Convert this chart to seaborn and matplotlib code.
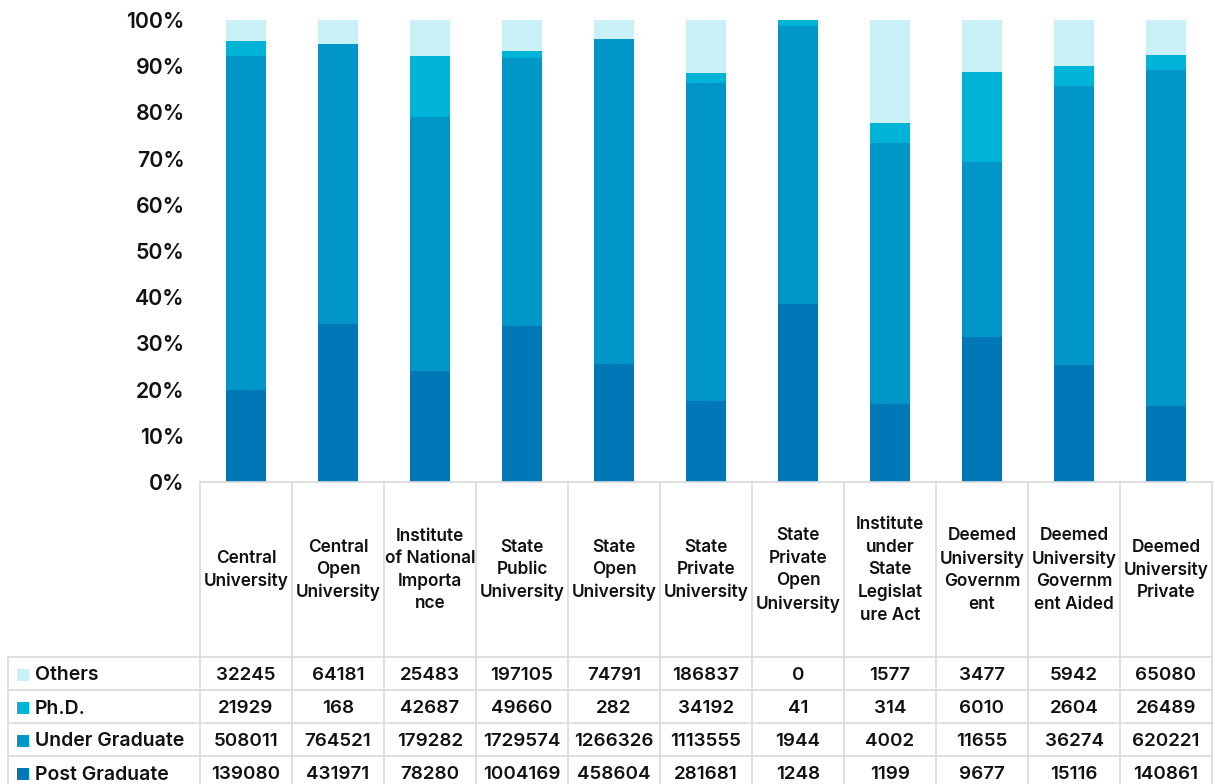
import numpy as np
import pandas as pd
import matplotlib
matplotlib.use("Agg")
import matplotlib.pyplot as plt
import seaborn as sns

categories = [
    "Central University", "Central Open University", "Institute of National Importance",
    "State Public University", "State Open University", "State Private University",
    "State Private Open University", "Institute under State Legislature Act",
    "Deemed University Government", "Deemed University Government Aided",
    "Deemed University Private",
]
header_labels = [
    "Central\nUniversity", "Central\nOpen\nUniversity", "Institute\nof National\nImporta\nnce",
    "State\nPublic\nUniversity", "State\nOpen\nUniversity", "State\nPrivate\nUniversity",
    "State\nPrivate\nOpen\nUniversity", "Institute\nunder\nState\nLegislat\nure Act",
    "Deemed\nUniversity\nGovernm\nent", "Deemed\nUniversity\nGovernm\nent Aided",
    "Deemed\nUniversity\nPrivate",
]
others = [32245, 64181, 25483, 197105, 74791, 186837, 0, 1577, 3477, 5942, 65080]
phd = [21929, 168, 42687, 49660, 282, 34192, 41, 314, 6010, 2604, 26489]
under_graduate = [508011, 764521, 179282, 1729574, 1266326, 1113555, 1944, 4002, 11655, 36274, 620221]
post_graduate = [139080, 431971, 78280, 1004169, 458604, 281681, 1248, 1199, 9677, 15116, 140861]
series_names = ["Post Graduate", "Under Graduate", "Ph.D.", "Others"]
colors = {"Post Graduate": "#0077B6", "Under Graduate": "#0096C7",
          "Ph.D.": "#00B4D8", "Others": "#CAF0F8"}
yticks = [0, 10, 20, 30, 40, 50, 60, 70, 80, 90, 100]

sns.set_theme(style="white")
plt.rcParams["font.family"] = ["Inter", "DejaVu Sans"]

df = pd.DataFrame({"category": categories, "Post Graduate": post_graduate,
                   "Under Graduate": under_graduate, "Ph.D.": phd, "Others": others})
totals = df[series_names].sum(axis=1)
cum = df[series_names].cumsum(axis=1).div(totals, axis=0) * 100

W, H = 1215, 784
fig = plt.figure(figsize=(W / 100, H / 100), dpi=100)
ax = fig.add_axes([200 / W, 1 - 482 / H, 1012 / W, 462 / H])

# stacked 100% bars: draw cumulative tops from the outermost layer inward
for name in reversed(series_names):
    sns.barplot(x=df["category"], y=cum[name], color=colors[name], width=40 / 92,
                saturation=1, ax=ax, order=categories, linewidth=0, edgecolor="none")

ax.set_xlim(-0.5, len(categories) - 0.5)
ax.set_ylim(0, 100)
ax.set_yticks(yticks)
ax.set_yticklabels([f"{v}%" for v in yticks], fontsize=15.3, fontweight="semibold", color="#111111")
ax.tick_params(axis="y", length=0, pad=11)
ax.set_xticks([])
ax.set_xlabel("")
ax.set_ylabel("")
for s in ax.spines.values():
    s.set_visible(False)

# data table below the plot, drawn in pixel coordinates
tab = fig.add_axes([0, 0, 1, 1])
tab.set_xlim(0, W)
tab.set_ylim(H, 0)
tab.axis("off")
tab.patch.set_alpha(0)
grid_c = "#d9d9d9"
col_w = 92
x0 = 200
xs = [x0 + i * col_w for i in range(len(categories) + 1)]
row_edges = [657, 690, 723, 756]
# header block
tab.plot([x0, xs[-1]], [482, 482], color=grid_c, lw=1.2)
for x in xs:
    tab.plot([x, x], [482, H], color=grid_c, lw=1.2)
for y in row_edges:
    tab.plot([8, xs[-1]], [y, y], color=grid_c, lw=1.2)
tab.plot([8, 8], [657, H], color=grid_c, lw=1.2)

for i, lab in enumerate(header_labels):
    tab.text(xs[i] + col_w / 2, 570, lab, ha="center", va="center", fontsize=12.4,
             fontweight="semibold", linespacing=1.42, color="#111111")

row_series = ["Others", "Ph.D.", "Under Graduate", "Post Graduate"]
row_values = {"Others": others, "Ph.D.": phd, "Under Graduate": under_graduate,
              "Post Graduate": post_graduate}
for r, name in enumerate(row_series):
    yc = row_edges[r] + 18.5
    tab.add_patch(plt.Rectangle((17, yc - 7), 12, 12, color=colors[name], lw=0))
    tab.text(35, yc, name, ha="left", va="center", fontsize=14, fontweight="semibold",
             color="#111111")
    for i, v in enumerate(row_values[name]):
        tab.text(xs[i] + col_w / 2, yc, str(v), ha="center", va="center", fontsize=13.5,
                 fontweight="semibold", color="#111111")

fig.savefig("out.png", dpi=100, facecolor="white")
